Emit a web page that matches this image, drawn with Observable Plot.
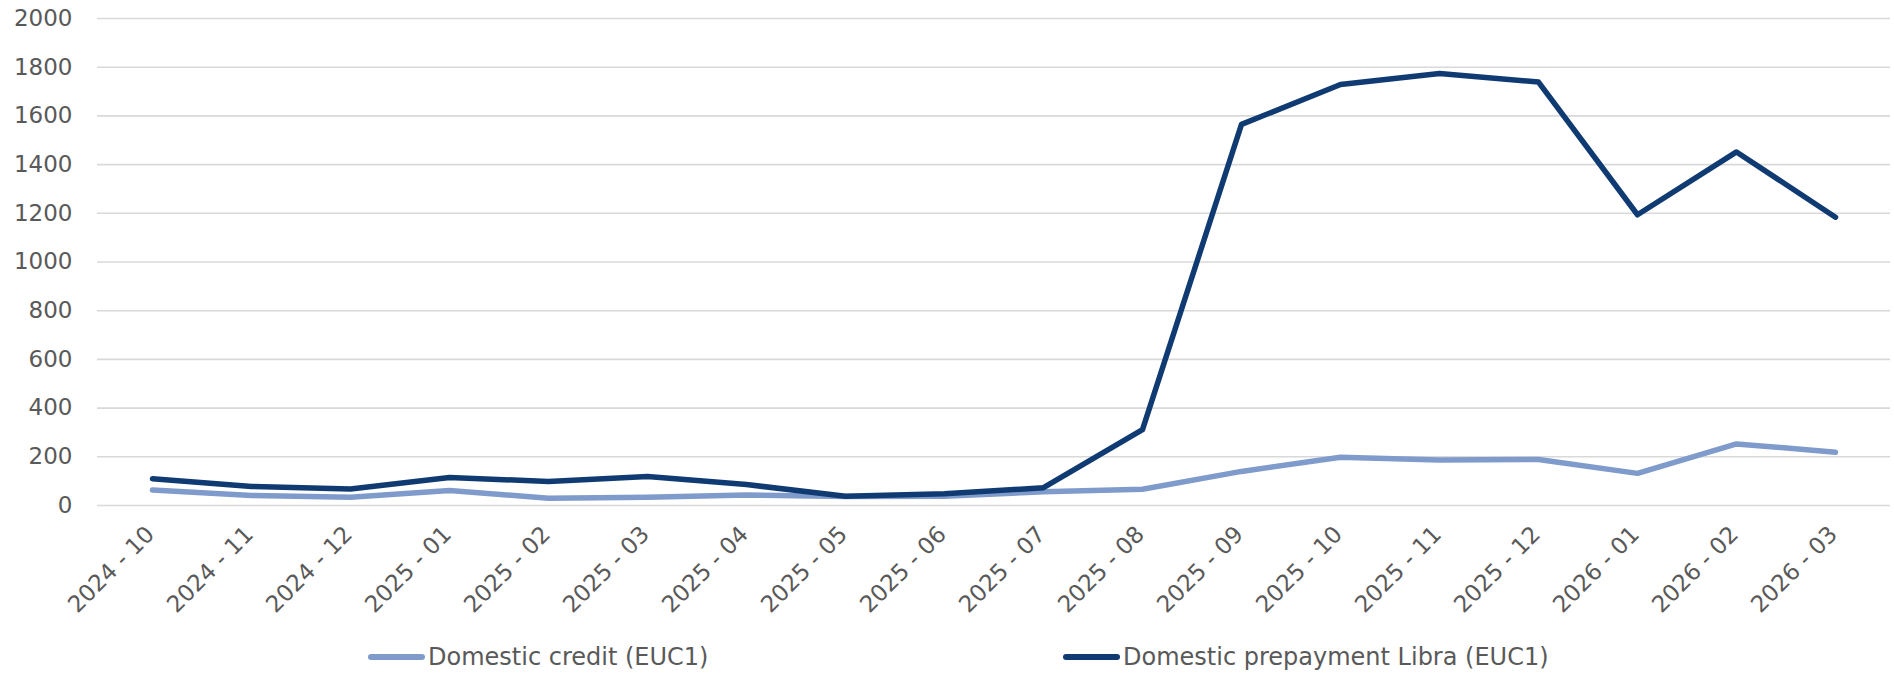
<!DOCTYPE html>
<html>
<head>
<meta charset="utf-8">
<script src="https://cdn.jsdelivr.net/npm/d3@7"></script>
<script src="https://cdn.jsdelivr.net/npm/@observablehq/plot@0.6"></script>
<style>
  html, body { margin: 0; padding: 0; background: #fff; }
  #wrap { width: 1894px; height: 675px; position: relative; font-family: "DejaVu Sans", sans-serif; }
  #legend { position: relative; height: 45px; width: 1894px; color: #595959; font-size: 24px; }
  .item { position: absolute; top: 13px; display: flex; align-items: center; white-space: nowrap; }
  .sw { width: 57px; height: 6px; border-radius: 3px; margin-right: 3px; }
</style>
</head>
<body>
<div id="wrap"></div>
<script>
const months = ["2024 - 10","2024 - 11","2024 - 12","2025 - 01","2025 - 02","2025 - 03","2025 - 04","2025 - 05","2025 - 06","2025 - 07","2025 - 08","2025 - 09","2025 - 10","2025 - 11","2025 - 12","2026 - 01","2026 - 02","2026 - 03"];
const credit = [64, 41, 34, 62, 30, 34, 43, 37, 38, 56, 67, 140, 198, 187, 189, 132, 253, 219];
const prepayment = [110, 78, 68, 115, 99, 119, 86, 38, 48, 73, 312, 1565, 1729, 1774, 1739, 1194, 1452, 1184];
const yTicks = [0, 200, 400, 600, 800, 1000, 1200, 1400, 1600, 1800, 2000];
const seriesNames = ["Domestic credit (EUC1)", "Domestic prepayment Libra (EUC1)"];
const seriesColors = ["#7f9bcb", "#0f3b72"];

const creditData = months.map((m, i) => ({month: m, value: credit[i]}));
const prepData = months.map((m, i) => ({month: m, value: prepayment[i]}));

const chart = Plot.plot({
  width: 1894,
  height: 630,
  marginLeft: 97,
  marginRight: 4,
  marginTop: 18,
  marginBottom: 125,
  style: {fontFamily: "DejaVu Sans, sans-serif", fontSize: "23px", color: "#595959", background: "#fff"},
  x: {type: "point", domain: months, padding: 0.5, label: null},
  y: {domain: [0, 2000], label: null},
  marks: [
    Plot.gridY(yTicks, {stroke: "#d9d9d9", strokeOpacity: 1, strokeWidth: 1.6}),
    Plot.axisY(yTicks, {tickSize: 0, tickPadding: 25, fontSize: 23, label: null, fill: "#595959", tickFormat: d => String(d)}),
    Plot.axisX(months, {tickSize: 0, tickPadding: 25, dx: -2, tickRotate: -45, fontSize: 23, label: null, fill: "#595959"}),
    Plot.lineY(creditData, {x: "month", y: "value", stroke: seriesColors[0], strokeWidth: 5.5, strokeLinecap: "round", strokeLinejoin: "round"}),
    Plot.lineY(prepData, {x: "month", y: "value", stroke: seriesColors[1], strokeWidth: 5.5, strokeLinecap: "round", strokeLinejoin: "round"})
  ]
});

const wrap = document.getElementById("wrap");
wrap.appendChild(chart);

const legend = document.createElement("div");
legend.id = "legend";
const lefts = [368, 1063];
seriesNames.forEach((name, i) => {
  const it = document.createElement("div");
  it.className = "item";
  it.style.left = lefts[i] + "px";
  const sw = document.createElement("div");
  sw.className = "sw";
  sw.style.background = seriesColors[i];
  const tx = document.createElement("span");
  tx.textContent = name;
  it.appendChild(sw);
  it.appendChild(tx);
  legend.appendChild(it);
});
wrap.appendChild(legend);
</script>
</body>
</html>
